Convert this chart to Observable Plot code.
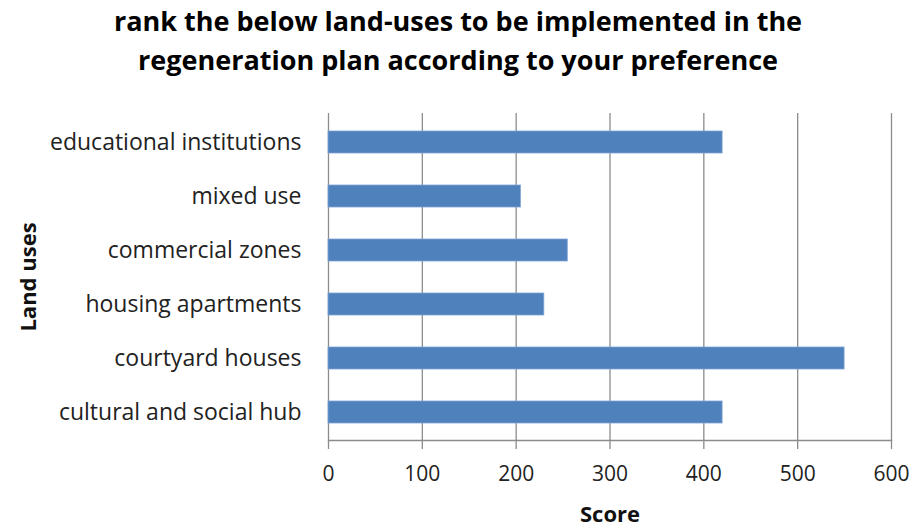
<!DOCTYPE html>
<html>
<head>
<meta charset="utf-8">
<script src="https://cdn.jsdelivr.net/npm/d3@7"></script>
<script src="https://cdn.jsdelivr.net/npm/@observablehq/plot@0.6"></script>
<style>
  html, body { margin: 0; padding: 0; background: #fff; }
  #title { width: 916px; height: 90px; box-sizing: border-box; padding-top: 1px;
    font-family: "Open Sans", Lato, sans-serif; font-weight: bold; font-size: 27px;
    line-height: 39px; text-align: center; color: #000; }
</style>
</head>
<body>
<div id="title">rank the below land-uses to be implemented in the<br>regeneration plan according to your preference</div>
<div id="chart"></div>
<script>
const categories = ["educational institutions", "mixed use", "commercial zones", "housing apartments", "courtyard houses", "cultural and social hub"];
const scores = [420, 205, 255, 230, 550, 420];
const xTicks = [0, 100, 200, 300, 400, 500, 600];

const data = categories.map((c, i) => ({category: c, score: scores[i]}));

const chart = Plot.plot({
  width: 916,
  height: 439,
  marginTop: 23,
  marginBottom: 89,
  marginLeft: 328,
  marginRight: 25,
  style: {fontFamily: "'Open Sans', Lato, sans-serif", background: "#fff"},
  x: {domain: [0, 600], ticks: xTicks},
  y: {domain: categories, paddingInner: 0.6, paddingOuter: 0.3},
  marks: [
    Plot.gridX(xTicks, {stroke: "#8c8c8c", strokeOpacity: 1, strokeWidth: 1.3}),
    Plot.barX(data, {x: "score", y: "category", fill: "#4f81bd", stroke: "#7ea3d1", strokeWidth: 0.8}),
    Plot.frame({anchor: "bottom", stroke: "#8c8c8c", strokeWidth: 1.3}),
    Plot.axisX({ticks: xTicks, tickSize: 9, tickPadding: 17, fontSize: 21, stroke: "#8c8c8c", fill: "#222", label: null, strokeWidth: 1.3}),
    Plot.axisY({tickSize: 0, tickPadding: 27, fontSize: 23, fill: "#222", label: null}),
    Plot.text(["Score"], {frameAnchor: "bottom", dy: 81, fontSize: 22, fontWeight: "bold", fill: "#111"}),
    Plot.text(["Land uses"], {frameAnchor: "left", textAnchor: "middle", dx: -300, rotate: -90, fontSize: 22, fontWeight: "bold", fill: "#111"})
  ]
});
document.getElementById("chart").appendChild(chart);
</script>
</body>
</html>
